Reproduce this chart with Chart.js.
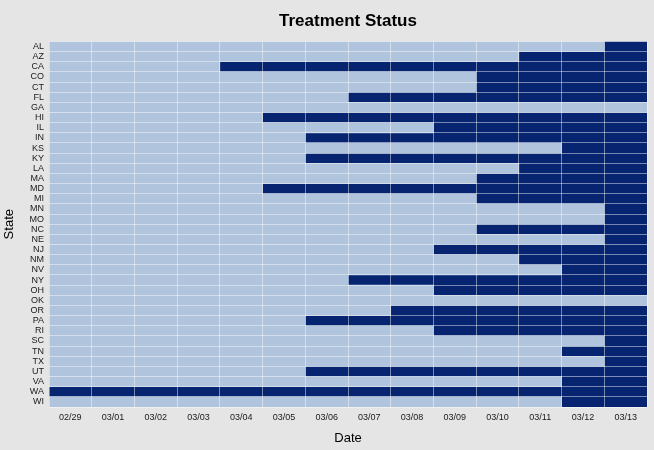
<!DOCTYPE html>
<html>
<head>
<meta charset="utf-8">
<script src="https://cdn.jsdelivr.net/npm/chart.js@4/dist/chart.umd.min.js"></script>
<style>
html,body{margin:0;padding:0;background:#e5e5e5;}
#wrap{width:654px;height:450px;position:relative;}
</style>
</head>
<body>
<div id="wrap"><canvas id="c" width="654" height="450"></canvas></div>
<script>
const dates = ["02/29","03/01","03/02","03/03","03/04","03/05","03/06","03/07","03/08","03/09","03/10","03/11","03/12","03/13"];
const states = ["AL","AZ","CA","CO","CT","FL","GA","HI","IL","IN","KS","KY","LA","MA","MD","MI","MN","MO","NC","NE","NJ","NM","NV","NY","OH","OK","OR","PA","RI","SC","TN","TX","UT","VA","WA","WI"];
// first treated date for each state (null = never treated in window)
const treatStart = ["03/13","03/11","03/04","03/10","03/10","03/07",null,"03/05","03/09","03/06","03/12","03/06","03/11","03/10","03/05","03/10","03/13","03/13","03/10","03/13","03/09","03/11","03/12","03/07","03/09",null,"03/08","03/06","03/09","03/13","03/12","03/13","03/06","03/12","02/29","03/12"];

const first = -0.5, last = dates.length - 0.5;
const untreated = treatStart.map(s => {
  const i = s === null ? dates.length : dates.indexOf(s);
  return i > 0 ? [first, i - 0.5] : null;
});
const treated = treatStart.map(s => {
  if (s === null) return null;
  const i = dates.indexOf(s);
  return [i - 0.5, last];
});

const bg = {
  id: 'bg',
  beforeDraw(chart) {
    const ctx = chart.ctx;
    ctx.save();
    ctx.fillStyle = '#e5e5e5';
    ctx.fillRect(0, 0, chart.width, chart.height);
    ctx.restore();
  },
  afterLayout(chart) {
    // center the title over the plotting panel
    const t = chart.titleBlock;
    if (t) {
      t.left = chart.chartArea.left;
      t.right = chart.chartArea.right;
      t.width = t.right - t.left;
    }
  }
};

const gridColor = 'rgba(255,255,255,0.45)';

new Chart(document.getElementById('c'), {
  type: 'bar',
  data: {
    labels: states,
    datasets: [
      { label: 'Untreated', data: untreated, backgroundColor: '#b0c4de', grouped: false, borderWidth: 0, barPercentage: 1, categoryPercentage: 1 },
      { label: 'Treated', data: treated, backgroundColor: '#062470', grouped: false, borderWidth: 0, barPercentage: 1, categoryPercentage: 1 }
    ]
  },
  plugins: [bg],
  options: {
    indexAxis: 'y',
    responsive: false,
    animation: false,
    layout: { padding: { left: 0, right: 7, top: 0, bottom: 0 } },
    plugins: {
      legend: { display: false },
      tooltip: { enabled: false },
      title: {
        display: true,
        text: 'Treatment Status',
        color: '#000',
        font: { family: 'Liberation Sans', size: 17, weight: 'bold', lineHeight: 1.2 },
        padding: { top: 11, bottom: 10 }
      }
    },
    scales: {
      x: {
        type: 'linear',
        min: first,
        max: last,
        afterBuildTicks(scale) { scale.ticks = dates.map((d, i) => ({ value: i })); },
        afterFit(scale) { scale.height = 43; },
        grid: { offset: true, z: 1, color: gridColor, lineWidth: 1, drawTicks: false },
        border: { display: false },
        ticks: {
          autoSkip: false,
          maxRotation: 0,
          padding: 5,
          color: '#1a1a1a',
          font: { family: 'Liberation Sans', size: 9 },
          callback: (v) => dates[v]
        },
        title: {
          display: true,
          text: 'Date',
          color: '#000',
          font: { family: 'Liberation Sans', size: 13 },
          padding: { top: 4, bottom: 4 }
        }
      },
      y: {
        type: 'category',
        offset: true,
        afterFit(scale) { scale.width = 49; },
        grid: { offset: true, z: 1, color: gridColor, lineWidth: 1, drawTicks: false },
        border: { display: false },
        ticks: {
          autoSkip: false,
          padding: 5,
          color: '#1a1a1a',
          font: { family: 'Liberation Sans', size: 9 }
        },
        title: {
          display: true,
          text: 'State',
          color: '#000',
          font: { family: 'Liberation Sans', size: 13 },
          padding: { top: 2, bottom: 0 }
        }
      }
    }
  }
});
</script>
</body>
</html>
